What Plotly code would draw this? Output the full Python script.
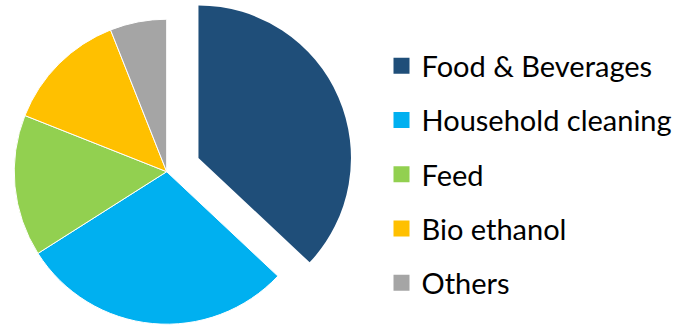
import math
import plotly.graph_objects as go

# Market share by end use (%)
labels = ["Food & Beverages", "Household cleaning", "Feed", "Bio ethanol", "Others"]
values = [37, 29, 15, 13, 6]
colors = ["#1F4E79", "#00B0F0", "#92D050", "#FFC000", "#A5A5A5"]

W, H = 679, 326
R = 152.5                  # pie radius in px
CX, CY = 166.7, 171.7      # pie centre in px (from top-left)
PULL = 0.227               # explode distance of the first slice, fraction of R

CLEAR = "rgba(0,0,0,0)"


def domain_for(cx, cy, r):
    return dict(x=[(cx - r) / W, (cx + r) / W],
                y=[1 - (cy + r) / H, 1 - (cy - r) / H])


# offset of the exploded slice along its bisector (clockwise from 12 o'clock)
mid = math.radians(values[0] / sum(values) * 360 / 2)
ox, oy = PULL * R * math.sin(mid), -PULL * R * math.cos(mid)

common = dict(labels=labels, values=values, sort=False, direction="clockwise",
              rotation=0, textinfo="none", hoverinfo="skip", showlegend=False)

fig = go.Figure()
# remaining slices in place
fig.add_trace(go.Pie(
    **common,
    domain=domain_for(CX, CY, R),
    marker=dict(colors=[CLEAR] + colors[1:],
                line=dict(color="white", width=[0, 1, 1, 1, 1])),
))
# exploded first slice
fig.add_trace(go.Pie(
    **common,
    domain=domain_for(CX + ox, CY + oy, R),
    marker=dict(colors=[colors[0]] + [CLEAR] * 4,
                line=dict(color="white", width=0)),
))

# legend entries
for lab, col in zip(labels, colors):
    fig.add_trace(go.Scatter(
        x=[None], y=[None], mode="markers", name=lab, legendgroup=lab,
        marker=dict(symbol="square", size=16, color=col), hoverinfo="skip",
    ))

fig.update_layout(
    width=W, height=H,
    margin=dict(l=0, r=0, t=0, b=0),
    paper_bgcolor="white", plot_bgcolor="white",
    xaxis=dict(visible=False), yaxis=dict(visible=False),
    legend=dict(x=381.5 / W, y=1 - 40.5 / H, xanchor="left", yanchor="top",
                font=dict(family="Lato", size=29, color="#000000"),
                tracegroupgap=13.5, bgcolor=CLEAR, borderwidth=0,
                traceorder="grouped"),
)

fig.write_html("out.html")
